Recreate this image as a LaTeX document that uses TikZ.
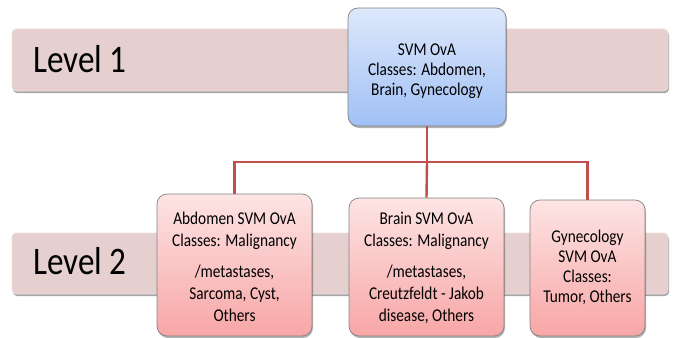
\documentclass[tikz,border=0pt]{standalone}
\usepackage{fontspec}
\usetikzlibrary{shadows}
\newfontfamily\boxfont[FakeStretch=0.85]{Carlito}
\definecolor{bandpink}{RGB}{230,207,207}
\definecolor{bandedge}{RGB}{238,222,222}
\definecolor{pinktop}{RGB}{253,228,228}
\definecolor{pinkbot}{RGB}{248,166,166}
\definecolor{bluetop}{RGB}{222,232,251}
\definecolor{bluebot}{RGB}{160,192,245}
\definecolor{boxedge}{RGB}{130,130,130}
\definecolor{connred}{RGB}{192,80,77}
\tikzset{
  band/.style={draw=bandedge, line width=0.6pt, fill=bandpink, rounded corners=4pt,
    drop shadow={shadow xshift=1pt, shadow yshift=-2pt, fill=black, opacity=0.35}},
  svmbox/.style={draw=boxedge, line width=0.7pt, rounded corners=10pt, inner sep=0pt,
    drop shadow={shadow xshift=1pt, shadow yshift=-2pt, fill=black, opacity=0.3}},
  pinkbox/.style={svmbox, top color=pinktop, bottom color=pinkbot},
  bluebox/.style={svmbox, top color=bluetop, bottom color=bluebot},
  boxtext/.style={align=center, inner sep=0pt, anchor=north, font=\boxfont\fontsize{18}{20}\selectfont},
  leveltext/.style={inner sep=0pt, anchor=base west, font=\boxfont\fontsize{39}{44}\selectfont},
  conn/.style={draw=connred, line width=2.4pt}
}
\begin{document}
\begin{tikzpicture}[x=1pt,y=-1pt]
\useasboundingbox (0,0) rectangle (676,337);
% bands
\node[band, minimum width=656pt, minimum height=62pt, inner sep=0pt] (band1) at (340,60) {};
\node[band, minimum width=656pt, minimum height=61pt, inner sep=0pt] (band2) at (340,263.5) {};
\node[leveltext] (lev1) at (33,72) {Level 1};
\node[leveltext] (lev2) at (33,274) {Level 2};
% boxes
\node[bluebox, minimum width=158pt, minimum height=118pt] (top) at (427,67) {};
\node[pinkbox, minimum width=155pt, minimum height=142pt] (abd) at (234.5,265) {};
\node[pinkbox, minimum width=155pt, minimum height=138pt] (brain) at (426.5,267) {};
\node[pinkbox, minimum width=115pt, minimum height=136pt] (gyn) at (587.5,268) {};
% texts
\node[boxtext] (ttop) at (427,44) {SVM OvA\\Classes: Abdomen,\\Brain, Gynecology};
\node[boxtext, font=\boxfont\fontsize{18}{22}\selectfont] (tabd) at (234.5,212) {Abdomen SVM OvA\\Classes: Malignancy\\[9pt] /metastases,\\Sarcoma, Cyst,\\Others};
\node[boxtext, font=\boxfont\fontsize{18}{22}\selectfont] (tbrain) at (426.5,212) {Brain SVM OvA\\Classes: Malignancy\\[9pt] /metastases,\\Creutzfeldt - Jakob\\disease, Others};
\node[boxtext] (tgyn) at (587.5,230) {Gynecology\\SVM OvA\\Classes:\\Tumor, Others};
% connectors
\coordinate (hub) at (top.south |- 0,162);
\draw[conn] (top.south) -- (hub);
\draw[conn] (abd.north) |- (hub) -| (gyn.north);
\draw[conn] (hub) -- (brain.north);
\end{tikzpicture}
\end{document}
